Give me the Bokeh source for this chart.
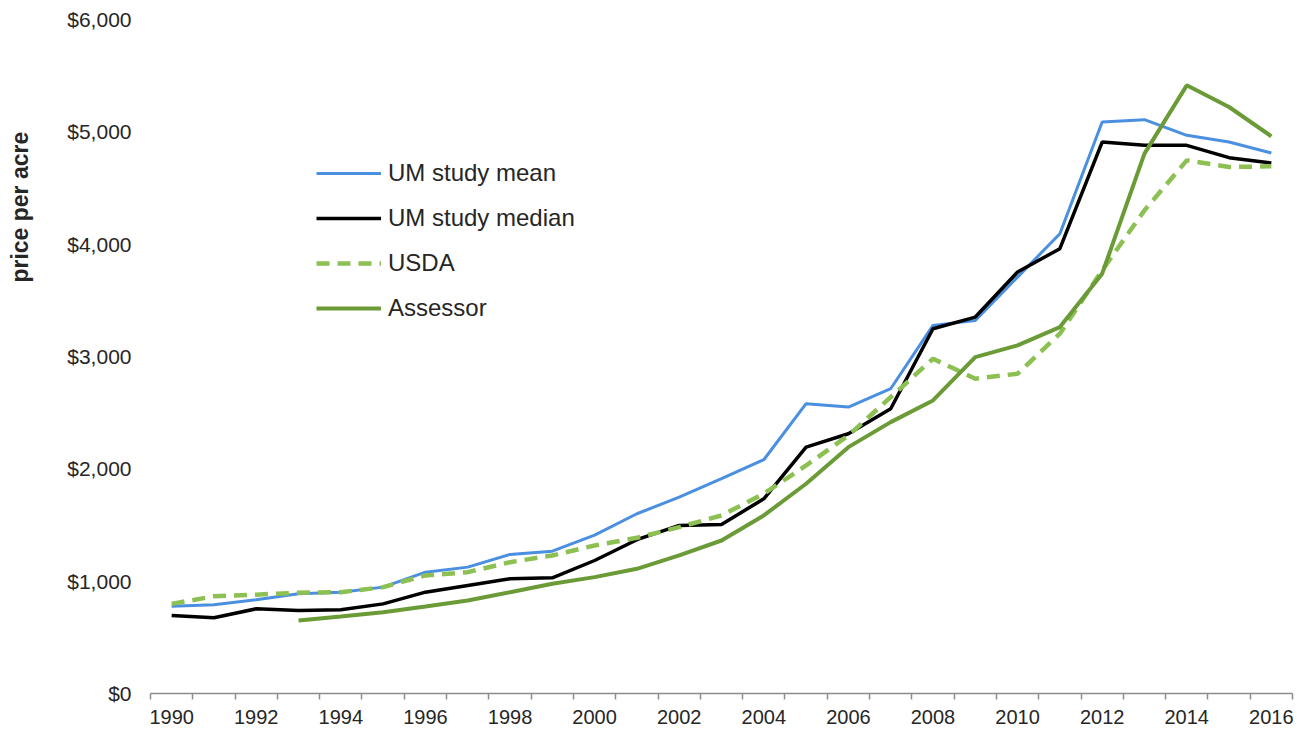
import math
from bokeh.plotting import figure
from bokeh.layouts import row
from bokeh.models import (Range1d, FixedTicker, Legend, LegendItem,
                          NumeralTickFormatter)
from bokeh.core.properties import value
from bokeh.embed import file_html
from bokeh.resources import INLINE

years = list(range(1990, 2017))
um_mean = [777, 790, 834, 888, 902, 947, 1080, 1125, 1238, 1267, 1410, 1600, 1748,
           1912, 2081, 2580, 2550, 2713, 3277, 3321, 3707, 4093, 5087, 5108, 4969,
           4909, 4811]
um_median = [694, 674, 754, 739, 745, 798, 902, 962, 1021, 1030, 1184, 1369, 1496,
             1505, 1733, 2193, 2312, 2535, 3247, 3351, 3752, 3960, 4909, 4880, 4880,
             4770, 4722]
usda = [798, 865, 880, 897, 902, 947, 1051, 1080, 1169, 1229, 1318, 1386, 1481,
        1585, 1778, 2030, 2297, 2638, 2980, 2802, 2847, 3203, 3767, 4301, 4746,
        4687, 4693]
assessor_years = list(range(1993, 2017))
assessor = [650, 686, 724, 775, 828, 902, 977, 1036, 1110, 1229, 1362, 1585, 1867,
            2193, 2416, 2609, 2995, 3099, 3262, 3737, 4806, 5414, 5221, 4960]

x_labels = list(range(1990, 2017, 2))
y_ticks = [0, 1000, 2000, 3000, 4000, 5000, 6000]
y_title = "price per acre"

FONT = "Liberation Sans"
TXT = "#262626"

# narrow strip holding the y-axis title
t = figure(width=40, height=729, output_backend="svg", toolbar_location=None,
           x_axis_type=None, y_axis_type=None,
           x_range=Range1d(0, 40), y_range=Range1d(0, 729),
           min_border=0)
t.outline_line_color = None
t.grid.visible = False
t.text(x=[19], y=[729 - 203], text=[y_title], angle=math.pi / 2,
       text_align="center", text_baseline="middle",
       text_font=value(FONT), text_font_size="23px",
       text_font_style="bold", text_color=TXT)

p = figure(width=1260, height=729, output_backend="svg", toolbar_location=None,
           x_range=Range1d(1989.5, 2016.5), y_range=Range1d(0, 6000),
           min_border_left=110, min_border_right=8, min_border_top=19,
           min_border_bottom=36)
p.outline_line_color = None
p.grid.visible = False
p.background_fill_color = "white"

# x axis
xa = p.xaxis[0]
xa.ticker = FixedTicker(ticks=x_labels,
                        minor_ticks=[y - 0.5 for y in range(1990, 2018)])
xa.axis_line_color = "#8c8c8c"
xa.axis_line_width = 1.5
xa.major_tick_out = 0
xa.major_tick_in = 0
xa.minor_tick_out = 6
xa.minor_tick_in = 0
xa.minor_tick_line_color = "#8c8c8c"
xa.minor_tick_line_width = 1.5
xa.major_label_text_font = FONT
xa.major_label_text_font_size = "20px"
xa.major_label_text_color = TXT
xa.major_label_standoff = 10

# y axis
ya = p.yaxis[0]
ya.ticker = FixedTicker(ticks=y_ticks)
ya.formatter = NumeralTickFormatter(format="$0,0")
ya.axis_line_color = None
ya.major_tick_line_color = None
ya.minor_tick_line_color = None
ya.major_tick_out = 0
ya.major_tick_in = 0
ya.minor_tick_out = 0
ya.minor_tick_in = 0
ya.major_label_text_font = FONT
ya.major_label_text_font_size = "21px"
ya.major_label_text_color = TXT
ya.major_label_standoff = 19

r_mean = p.line(years, um_mean, line_color="#4a8fe0", line_width=3)
r_med = p.line(years, um_median, line_color="#000000", line_width=3.5)
r_usda = p.line(years, usda, line_color="#8cc052", line_width=4.5,
                line_dash="13 8")
r_ass = p.line(assessor_years, assessor, line_color="#6b9b37", line_width=4)

legend = Legend(items=[LegendItem(label="UM study mean", renderers=[r_mean]),
                       LegendItem(label="UM study median", renderers=[r_med]),
                       LegendItem(label="USDA", renderers=[r_usda]),
                       LegendItem(label="Assessor", renderers=[r_ass])],
                location=(166, 365), orientation="vertical",
                border_line_color=None, background_fill_alpha=0,
                padding=0, margin=0, spacing=5, glyph_width=65, glyph_height=40,
                label_height=40, label_standoff=7,
                label_text_font=FONT, label_text_font_size="24px",
                label_text_color=TXT)
p.add_layout(legend, "center")

layout = row(t, p)
open("out.html", "w").write(file_html(layout, INLINE))
